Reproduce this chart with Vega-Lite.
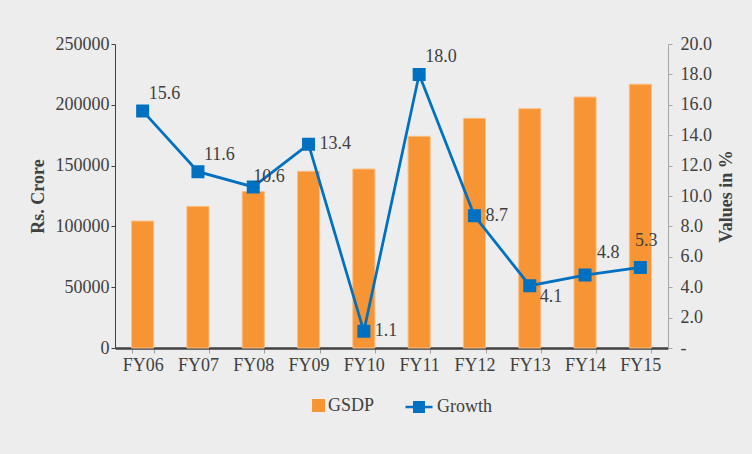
{
  "$schema": "https://vega.github.io/schema/vega-lite/v6.json",
  "width": 553,
  "height": 304,
  "autosize": {"type": "none"},
  "padding": {"left": 115, "top": 44, "right": 84, "bottom": 106},
  "background": "#ededed",
  "config": {
    "view": {"stroke": null},
    "font": "Liberation Serif",
    "axis": {
      "labelFont": "Liberation Serif",
      "labelFontSize": 18,
      "labelColor": "#404040",
      "titleFont": "Liberation Serif",
      "titleFontSize": 18,
      "titleColor": "#404040",
      "titleFontWeight": "bold",
      "grid": false
    },
    "legend": {
      "labelFont": "Liberation Serif",
      "labelFontSize": 18,
      "labelColor": "#404040",
      "padding": 0
    }
  },
  "data": {
    "values": [
      {"year": "FY06", "gsdp": 104400, "growth": 15.6},
      {"year": "FY07", "gsdp": 116500, "growth": 11.6},
      {"year": "FY08", "gsdp": 128600, "growth": 10.6},
      {"year": "FY09", "gsdp": 145300, "growth": 13.4},
      {"year": "FY10", "gsdp": 147200, "growth": 1.1},
      {"year": "FY11", "gsdp": 174100, "growth": 18.0},
      {"year": "FY12", "gsdp": 188900, "growth": 8.7},
      {"year": "FY13", "gsdp": 196800, "growth": 4.1},
      {"year": "FY14", "gsdp": 206400, "growth": 4.8},
      {"year": "FY15", "gsdp": 216900, "growth": 5.3}
    ]
  },
  "encoding": {
    "x": {
      "field": "year",
      "type": "nominal",
      "sort": null,
      "scale": {"paddingInner": 0.6, "paddingOuter": 0.3},
      "axis": {
        "title": null,
        "labelAngle": 0,
        "tickBand": "extent",
        "domainColor": "#404040",
        "domainWidth": 2.5,
        "tickColor": "#a0a0a0",
        "tickSize": 5,
        "labelPadding": 3
      }
    }
  },
  "layer": [
    {
      "mark": {"type": "bar", "stroke": "#fbbf85", "strokeWidth": 1},
      "encoding": {
        "y": {
          "field": "gsdp",
          "type": "quantitative",
          "scale": {"domain": [0, 250000]},
          "axis": {
            "title": "Rs. Crore",
            "values": [0, 50000, 100000, 150000, 200000, 250000],
            "format": "d",
            "domainColor": "#404040",
            "tickColor": "#404040",
            "tickSize": 4,
            "labelPadding": 2,
            "titlePadding": 8
          }
        },
        "fill": {
          "datum": "GSDP",
          "type": "nominal",
          "scale": {"range": ["#f79433"]},
          "legend": {
            "title": null,
            "orient": "none",
            "legendX": 183,
            "legendY": 348,
            "symbolType": "M0.04,-0.48H1V0.48H0.04Z",
            "symbolSize": 729,
            "symbolStrokeWidth": 0,
            "labelOffset": 3
          }
        }
      }
    },
    {
      "encoding": {
        "y": {
          "field": "growth",
          "type": "quantitative",
          "scale": {"domain": [0, 20]},
          "axis": {
            "orient": "right",
            "title": "Values in %",
            "titleAngle": 270,
            "titleBaseline": "top",
            "titlePadding": 6,
            "values": [0, 2, 4, 6, 8, 10, 12, 14, 16, 18, 20],
            "labelExpr": "datum.value === 0 ? '-' : format(datum.value, '.1f')",
            "domainColor": "#a6a6a6",
            "tickColor": "#a6a6a6",
            "tickSize": 4,
            "labelPadding": 8
          }
        }
      },
      "layer": [
        {
          "mark": {
            "type": "line",
            "strokeWidth": 2.75,
            "point": {"shape": "square", "size": 121, "filled": true, "color": "#0070c0"}
          },
          "encoding": {
            "stroke": {
              "datum": "Growth",
              "type": "nominal",
              "scale": {"range": ["#0070c0"]},
              "legend": {
                "title": null,
                "orient": "none",
                "legendX": 289,
                "legendY": 348,
                "symbolType": "M-1,0H1M-0.35,-0.35H0.35V0.35H-0.35Z",
                "symbolSize": 729,
                "symbolStrokeWidth": 2.5,
                "symbolFillColor": "#0070c0",
                "labelOffset": 3
              }
            }
          }
        },
        {
          "transform": [{"filter": {"field": "year", "oneOf": ["FY06", "FY07", "FY11"]}}],
          "mark": {"type": "text", "font": "Liberation Serif", "fontSize": 18, "color": "#404040", "align": "left", "baseline": "middle", "dx": 6, "dy": -17},
          "encoding": {"text": {"field": "growth", "type": "quantitative", "format": ".1f"}}
        },
        {
          "transform": [{"filter": {"field": "year", "oneOf": ["FY09", "FY10", "FY12"]}}],
          "mark": {"type": "text", "font": "Liberation Serif", "fontSize": 18, "color": "#404040", "align": "left", "baseline": "middle", "dx": 11, "dy": 0},
          "encoding": {"text": {"field": "growth", "type": "quantitative", "format": ".1f"}}
        },
        {
          "transform": [{"filter": {"field": "year", "equal": "FY08"}}],
          "mark": {"type": "text", "font": "Liberation Serif", "fontSize": 18, "color": "#404040", "align": "left", "baseline": "middle", "dx": 0, "dy": -10},
          "encoding": {"text": {"field": "growth", "type": "quantitative", "format": ".1f"}}
        },
        {
          "transform": [{"filter": {"field": "year", "equal": "FY13"}}],
          "mark": {"type": "text", "font": "Liberation Serif", "fontSize": 18, "color": "#404040", "align": "left", "baseline": "middle", "dx": 10, "dy": 11},
          "encoding": {"text": {"field": "growth", "type": "quantitative", "format": ".1f"}}
        },
        {
          "transform": [{"filter": {"field": "year", "equal": "FY14"}}],
          "mark": {"type": "text", "font": "Liberation Serif", "fontSize": 18, "color": "#404040", "align": "left", "baseline": "middle", "dx": 12, "dy": -22},
          "encoding": {"text": {"field": "growth", "type": "quantitative", "format": ".1f"}}
        },
        {
          "transform": [{"filter": {"field": "year", "equal": "FY15"}}],
          "mark": {"type": "text", "font": "Liberation Serif", "fontSize": 18, "color": "#404040", "align": "center", "baseline": "middle", "dx": 6, "dy": -26},
          "encoding": {"text": {"field": "growth", "type": "quantitative", "format": ".1f"}}
        }
      ]
    }
  ],
  "resolve": {"scale": {"y": "independent"}}
}
